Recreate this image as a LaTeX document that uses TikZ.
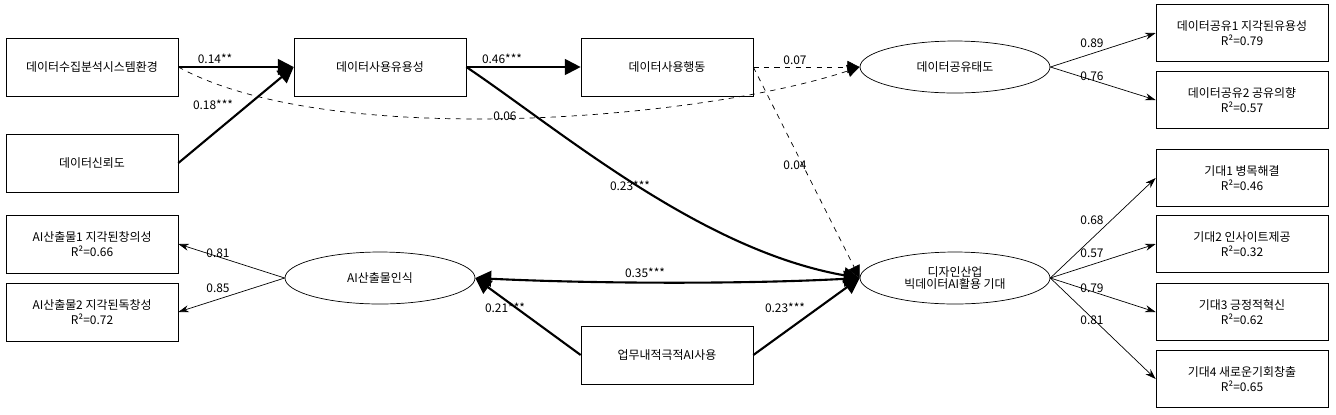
\documentclass[tikz,border=0pt]{standalone}
\usepackage{fontspec}
\setmainfont{Noto Sans CJK KR}
\usetikzlibrary{arrows,arrows.meta,shapes.geometric}
\begin{document}
\begin{tikzpicture}[>=latex',x=0.02cm,y=-0.02cm,font=\fontsize{6.8}{8.5}\selectfont]
        \tikzset{block/.style={draw, rectangle, align=center, minimum width=3.44cm, minimum height=1.16cm, inner sep=1pt},
        oval/.style={draw, ellipse, align=center, minimum width=3.8cm, minimum height=1.04cm, inner sep=0pt},
        strong/.style={->, line width=1.2pt, >={Triangle[length=9pt,width=9pt]}},
        weak/.style={->, dashed, >={Triangle[length=7pt,width=7pt]}},
        thin/.style={->, >={Stealth[length=6pt,width=4pt]}},
        lab/.style={fill=none, inner sep=1pt}
        }
        \useasboundingbox (0,0) rectangle (1336,414);
        \node [block] (env) at (92,67) {데이터수집분석시스템환경};
        \node [block] (trust) at (92,163) {데이터신뢰도};
        \node [block] (useful) at (380,67) {데이터사용유용성};
        \node [block] (behav) at (667,67) {데이터사용행동};
        \node [oval] (share) at (955,67) {데이터공유태도};
        \node [block, minimum height=1.14cm] (share1) at (1242,33) {데이터공유1 지각된유용성\\R²=0.79};
        \node [block, minimum height=1.14cm] (share2) at (1242,100) {데이터공유2 공유의향\\R²=0.57};
        \node [block] (ai1) at (92,244) {AI산출물1 지각된창의성\\R²=0.66};
        \node [block] (ai2) at (92,312) {AI산출물2 지각된독창성\\R²=0.72};
        \node [oval] (aiperc) at (380,278) {AI산출물인식};
        \node [block] (aiuse) at (667,355) {업무내적극적AI사용};
        \node [oval] (expect) at (955,278) {디자인산업\\[-2pt]빅데이터AI활용 기대};
        \node [block, minimum height=1.14cm] (exp1) at (1242,178) {기대1 병목해결\\R²=0.46};
        \node [block, minimum height=1.14cm] (exp2) at (1242,244) {기대2 인사이트제공\\R²=0.32};
        \node [block, minimum height=1.14cm] (exp3) at (1242,312) {기대3 긍정적혁신\\R²=0.62};
        \node [block, minimum height=1.14cm] (exp4) at (1242,379) {기대4 새로운기회창출\\R²=0.65};

%% paths
        \draw [strong] (env.east) -- (useful.west);
        \draw [strong] (trust.east) -- (useful.west);
        \draw [strong] (useful) -- (behav);
        \draw [weak] (behav) -- (share);
        \draw [weak] (env.east) .. controls (330,150) and (700,120) .. (share.west);
        \draw [strong] (useful.east) .. controls (560,130) and (700,250) .. (expect.west);
        \draw [weak] (behav.east) -- (expect.west);
        \draw [strong, <->] (aiperc.east) .. controls (600,284) and (750,284) .. (expect.west);
        \draw [strong] (aiuse.west) -- (aiperc.east);
        \draw [strong] (aiuse.east) -- (expect.west);
        \draw [thin] (aiperc.west) -- (ai1.east);
        \draw [thin] (aiperc.west) -- (ai2.east);
        \draw [thin] (share.east) -- (share1.west);
        \draw [thin] (share.east) -- (share2.west);
        \foreach \n in {exp1,exp2,exp3,exp4}
            \draw [thin] (expect.east) -- (\n.west);

%% labels
        \node [lab] (l1) at (215,59) {0.14**};
        \node [lab] (l2) at (213,105) {0.18***};
        \node [lab] (l3) at (505,116) {0.06};
        \node [lab] (l4) at (502,59) {0.46***};
        \node [lab] (l5) at (795,60) {0.07};
        \node [lab] (l6) at (1092,43) {0.89};
        \node [lab] (l7) at (1092,76) {0.76};
        \node [lab] (l8) at (630,186) {0.23***};
        \node [lab] (l9) at (795,165) {0.04};
        \node [lab] (l10) at (218,253) {0.81};
        \node [lab] (l11) at (218,288) {0.85};
        \node [lab] (l12) at (645,273) {0.35***};
        \node [lab] (l13) at (505,308) {0.21***};
        \node [lab] (l14) at (785,308) {0.23***};
        \node [lab] (l15) at (1092,220) {0.68};
        \node [lab] (l16) at (1092,253) {0.57};
        \node [lab] (l17) at (1092,288) {0.79};
        \node [lab] (l18) at (1092,320) {0.81};
    \end{tikzpicture}
\end{document}
